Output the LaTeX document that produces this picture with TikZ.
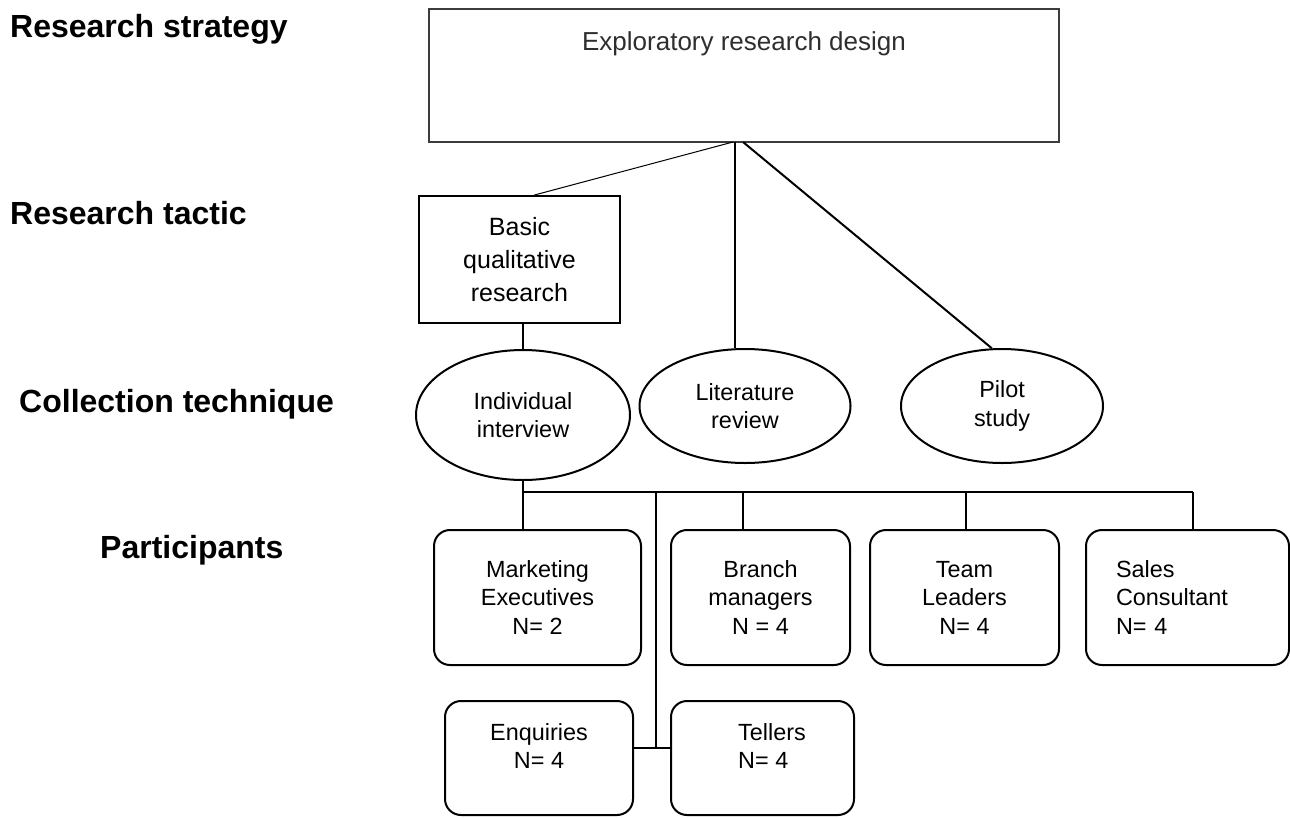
\documentclass[tikz,border=0pt]{standalone}
\usepackage{fontspec}
\setmainfont{Liberation Sans}
\usetikzlibrary{shapes.geometric,calc}
\definecolor{colframe}{HTML}{3C3C3C}
\definecolor{coldesign}{HTML}{2E2E2E}

\begin{document}
\begin{tikzpicture}[
  x=1pt,y=-1pt,
  lvl/.style={font=\bfseries\fontsize{32}{38}\selectfont,anchor=base west,inner sep=0pt},
  txt/.style={font=\fontsize{23.4}{28.5}\selectfont,inner sep=0pt},
  strat/.style={draw=colframe,line width=2.4pt,minimum width=630pt,minimum height=133pt,inner sep=0pt},
  tactic/.style={draw,line width=2pt,minimum width=201pt,minimum height=127pt,inner sep=0pt,
    align=center,font=\fontsize{25}{33}\selectfont},
  tech/.style={draw,ellipse,line width=2pt,inner sep=0pt,align=center,txt},
  grp/.style={draw,rounded corners=16pt,line width=2pt,inner sep=0pt,align=center,txt},
  link/.style={line width=2pt},
]
  \useasboundingbox (0,0) rectangle (1290,817);
  % ---- level labels ----
  \node[lvl] (lstrat) at (10,37)  {Research strategy};
  \node[lvl] (ltact)  at (10,224) {Research tactic};
  \node[lvl] (lcoll)  at (19,412) {Collection technique};
  \node[lvl] (lpart)  at (100,558) {Participants};
  % ---- strategy and tactic ----
  \node[strat,label={[anchor=base,yshift=-43pt,inner sep=0pt,text=coldesign,
      font=\fontsize{26}{30}\selectfont]north:Exploratory research design}] (design) at (744,75.5) {};
  \node[tactic] (basic) at (519.5,259.5) {Basic\\qualitative\\research};
  % ---- collection techniques ----
  \node[tech,minimum width=214pt,minimum height=130pt] (indiv) at (523,415) {Individual\\interview};
  \node[tech,minimum width=211pt,minimum height=114pt] (lit)   at (745,406) {Literature\\review};
  \node[tech,minimum width=202pt,minimum height=114pt] (pilot) at (1002,406) {Pilot\\study};
  % ---- participants ----
  \node[grp,minimum width=207pt,minimum height=135pt] (mark)   at (537.5,597.5) {Marketing\\Executives\\N= 2};
  \node[grp,minimum width=179pt,minimum height=135pt] (branch) at (760.5,597.5) {Branch\\managers\\N = 4};
  \node[grp,minimum width=189pt,minimum height=135pt] (team)   at (964.5,597.5) {Team\\Leaders\\N= 4};
  \node[grp,minimum height=135pt,inner xsep=30pt,text width=143pt,align=left] (sales) at (1187.5,597.5)
    {Sales\\Consultant\\N= 4};
  \node[grp,minimum width=188pt,minimum height=114pt,
    label={[txt,align=center,yshift=12pt]center:Enquiries\\N= 4}] (enq) at (539,758) {};
  \node[grp,minimum width=183pt,minimum height=114pt,
    label={[txt,align=left,anchor=west,xshift=68pt,yshift=12pt]west:Tellers\\N= 4}] (tell) at (762.5,758) {};
  % ---- connectors ----
  \coordinate (hub) at (735,142);
  \draw[line width=1pt] ([xshift=-2pt]hub) -- ($(basic.north)+(15,0)$);
  \draw[link] (hub) -- (hub |- lit.north);
  \draw[link] ([xshift=8pt]hub) -- (pilot.100);
  \draw[link] (basic.south -| indiv.north) -- (indiv.north);
  \coordinate (bus) at (523,492);
  \coordinate (busend) at (1193,492);
  \draw[link] (indiv.south) -- (bus) -- (busend);
  \foreach \x/\who in {523/mark,743/branch,966/team,1193/sales}
    \draw[link] (\x,492) -- (\x,492 |- \who.north);
  \coordinate (tap) at (656,492);
  \coordinate (tj) at (656,748);
  \draw[line width=1.5pt] (tap) -- (tj);
  \draw[link] (tj -| enq.east) -- (tj -| tell.west);
\end{tikzpicture}
\end{document}
